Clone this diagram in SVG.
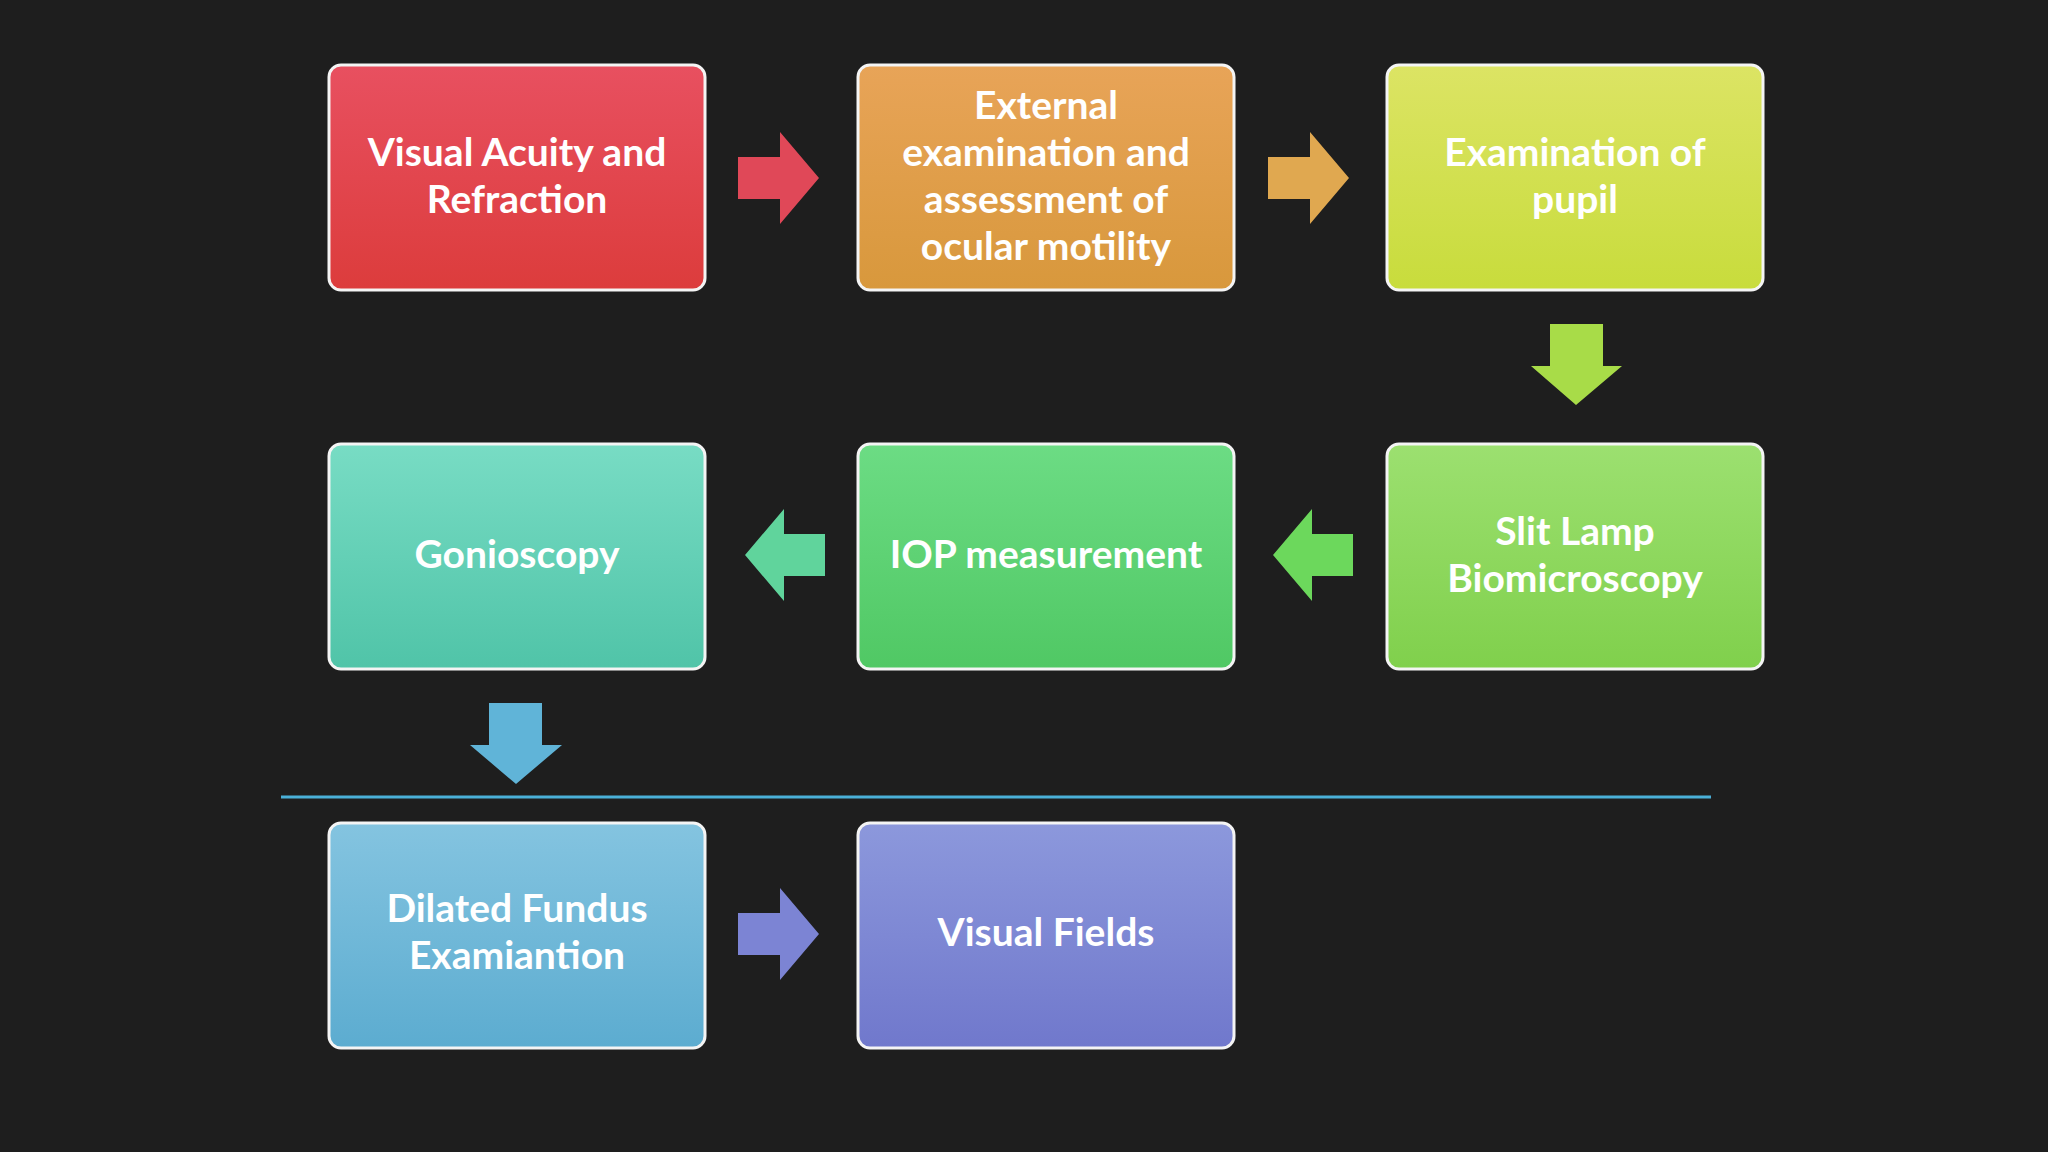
<svg xmlns="http://www.w3.org/2000/svg" width="2048" height="1152" viewBox="0 0 2048 1152">
<defs>
<style>
.b{stroke:#f4f4f4;stroke-width:3}
.t{font-family:Lato,"Open Sans",sans-serif;font-size:39px;font-weight:bold;fill:#fff;text-anchor:middle}
</style>
<linearGradient id="gr" x1="0" y1="0" x2="0" y2="1"><stop offset="0" stop-color="#e85060"/><stop offset="1" stop-color="#dc3c3c"/></linearGradient>
<linearGradient id="go" x1="0" y1="0" x2="0" y2="1"><stop offset="0" stop-color="#e8a458"/><stop offset="1" stop-color="#d8983c"/></linearGradient>
<linearGradient id="gy" x1="0" y1="0" x2="0" y2="1"><stop offset="0" stop-color="#dce464"/><stop offset="1" stop-color="#c8dc3c"/></linearGradient>
<linearGradient id="gl" x1="0" y1="0" x2="0" y2="1"><stop offset="0" stop-color="#9ce070"/><stop offset="1" stop-color="#80d04c"/></linearGradient>
<linearGradient id="gg" x1="0" y1="0" x2="0" y2="1"><stop offset="0" stop-color="#6cdc84"/><stop offset="1" stop-color="#50c864"/></linearGradient>
<linearGradient id="gt" x1="0" y1="0" x2="0" y2="1"><stop offset="0" stop-color="#78dcc4"/><stop offset="1" stop-color="#50c4a8"/></linearGradient>
<linearGradient id="gb" x1="0" y1="0" x2="0" y2="1"><stop offset="0" stop-color="#84c4e0"/><stop offset="1" stop-color="#5cacd0"/></linearGradient>
<linearGradient id="gp" x1="0" y1="0" x2="0" y2="1"><stop offset="0" stop-color="#8c98dc"/><stop offset="1" stop-color="#7078cc"/></linearGradient>
</defs>
<rect width="2048" height="1152" fill="#1e1e1e"/>
<line x1="281" y1="797" x2="1711" y2="797" stroke="#4ab0d8" stroke-width="3"/>
<g id="connectors">
<path d="M738,157 H780 V132 L819,178 L780,224 V199 H738 Z" fill="#e04858"/>
<path d="M1268,157 H1310 V132 L1349,178 L1310,224 V199 H1268 Z" fill="#e0a850"/>
<path d="M1550,324 H1603 V366 H1622 L1576,405 L1531,366 H1550 Z" fill="#a8dc48"/>
<path d="M1353,534 H1312 V509 L1273,555 L1312,601 V576 H1353 Z" fill="#6cd85c"/>
<path d="M825,534 H784 V509 L745,555 L784,601 V576 H825 Z" fill="#60d49c"/>
<path d="M489,703 H542 V745 H562 L516,784 L470,745 H489 Z" fill="#60b4d8"/>
<path d="M738,913 H780 V888 L819,934 L780,980 V955 H738 Z" fill="#7c84d4"/>
</g>
<g id="n1"><rect class="b" x="329" y="65" width="376" height="225" rx="12" fill="url(#gr)"/><text class="t" x="517" y="166">Visual Acuity and</text><text class="t" x="517" y="213">Refraction</text></g>
<g id="n2"><rect class="b" x="858" y="65" width="376" height="225" rx="12" fill="url(#go)"/><text class="t" x="1046" y="119">External</text><text class="t" x="1046" y="166">examination and</text><text class="t" x="1046" y="213">assessment of</text><text class="t" x="1046" y="260">ocular motility</text></g>
<g id="n3"><rect class="b" x="1387" y="65" width="376" height="225" rx="12" fill="url(#gy)"/><text class="t" x="1575" y="166">Examination of</text><text class="t" x="1575" y="213">pupil</text></g>
<g id="n4"><rect class="b" x="1387" y="444" width="376" height="225" rx="12" fill="url(#gl)"/><text class="t" x="1575" y="545">Slit Lamp</text><text class="t" x="1575" y="592">Biomicroscopy</text></g>
<g id="n5"><rect class="b" x="858" y="444" width="376" height="225" rx="12" fill="url(#gg)"/><text class="t" x="1046" y="568">IOP measurement</text></g>
<g id="n6"><rect class="b" x="329" y="444" width="376" height="225" rx="12" fill="url(#gt)"/><text class="t" x="517" y="568">Gonioscopy</text></g>
<g id="n7"><rect class="b" x="329" y="823" width="376" height="225" rx="12" fill="url(#gb)"/><text class="t" x="517" y="922">Dilated Fundus</text><text class="t" x="517" y="969">Examiantion</text></g>
<g id="n8"><rect class="b" x="858" y="823" width="376" height="225" rx="12" fill="url(#gp)"/><text class="t" x="1046" y="946">Visual Fields</text></g>
</svg>
